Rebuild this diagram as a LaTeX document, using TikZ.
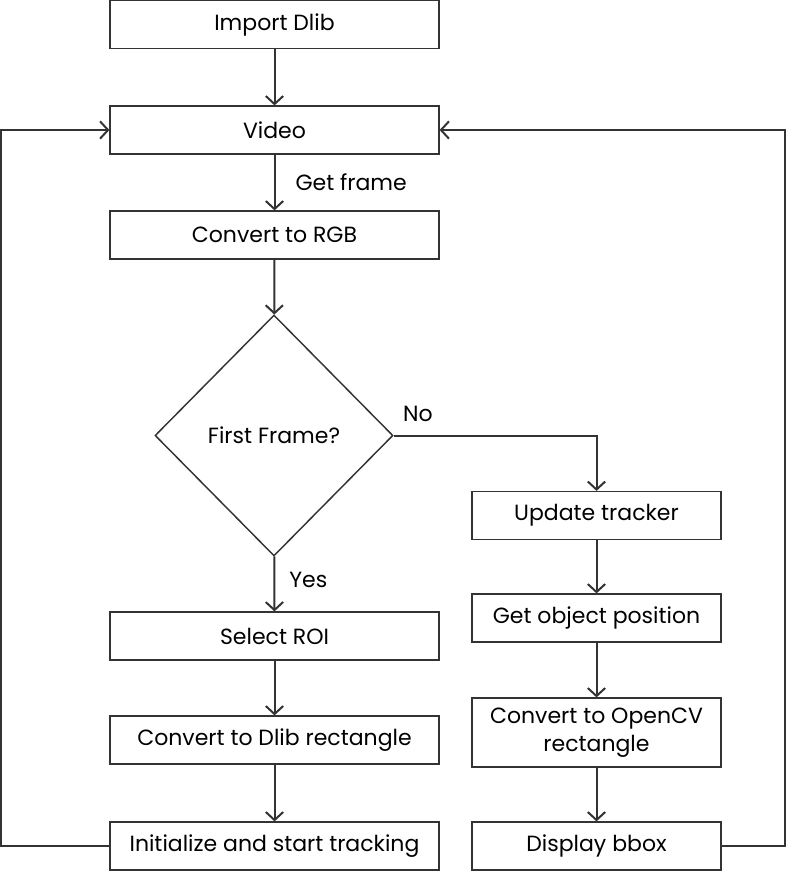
\documentclass[tikz,border=0pt]{standalone}
\usepackage{fontspec}
\setmainfont{Poppins}
\usetikzlibrary{arrows.meta,shapes.geometric}
\definecolor{linegray}{HTML}{333333}
\begin{document}
\begin{tikzpicture}[x=0.75pt,y=-0.75pt,thick,
    box/.style={rectangle,draw=linegray,line width=0.9pt,minimum width=246.75pt,minimum height=36pt,inner sep=0pt,font=\fontsize{16.5}{21}\selectfont,align=center},
    rbox/.style={box,minimum width=186.75pt},
    decision/.style={diamond,draw=linegray,line width=1.1pt,minimum width=178.5pt,minimum height=180.75pt,inner sep=0pt,font=\fontsize{16.5}{21}\selectfont},
    flow/.style={draw=linegray,line width=1.5pt,-{Straight Barb[length=6pt,width=13pt,line width=1.5pt]}},
    lbl/.style={font=\fontsize{16.5}{21}\selectfont,inner sep=0pt}]
    \useasboundingbox (0,0) rectangle (787,871);

    \node[box] at (274.5, 24.5) (dlib) {Import Dlib};
    \node[box] at (274.5, 130) (video) {Video};
    \node[box] at (274.5, 235) (rgb) {Convert to RGB};
    \node[decision] at (274, 435.5) (first) {First Frame?};
    \node[box] at (274.5, 636) (roi) {Select ROI};
    \node[box] at (274.5, 740) (rect) {Convert to Dlib rectangle};
    \node[box] at (274.5, 846) (init) {Initialize and start tracking};

    \node[rbox] at (596.5, 515.5) (update) {Update tracker};
    \node[rbox] at (596.5, 618) (pos) {Get object position};
    \node[rbox,minimum height=51.75pt] at (596.5, 732.5) (cv) {Convert to OpenCV\\rectangle};
    \node[rbox] at (596.5, 846) (bbox) {Display bbox};

    \coordinate (lt) at (1, 846);
    \coordinate (lb) at (1, 130);
    \coordinate (rt) at (785, 846);
    \coordinate (rb) at (785, 130);
    \coordinate (nc) at (596.5, 435.5);

    \path[flow]
        (dlib) edge (video)
        (video) edge node[lbl,anchor=west,xshift=15pt] {Get frame} (rgb)
        (rgb) edge (first)
        (first) edge node[lbl,anchor=west,xshift=10.5pt,yshift=3pt] {Yes} (roi)
        (roi) edge (rect)
        (rect) edge (init)
        (update) edge (pos)
        (pos) edge (cv)
        (cv) edge (bbox)
        ;
    \draw[flow] (first.east) -- (nc) -- (update.north);
    \draw[flow] (init.west) -- (lt) -- (lb) -- (video.west);
    \draw[flow] (bbox.east) -- (rt) -- (rb) -- (video.east);
    \node[lbl] at (418, 414) (no) {No};
\end{tikzpicture}
\end{document}
